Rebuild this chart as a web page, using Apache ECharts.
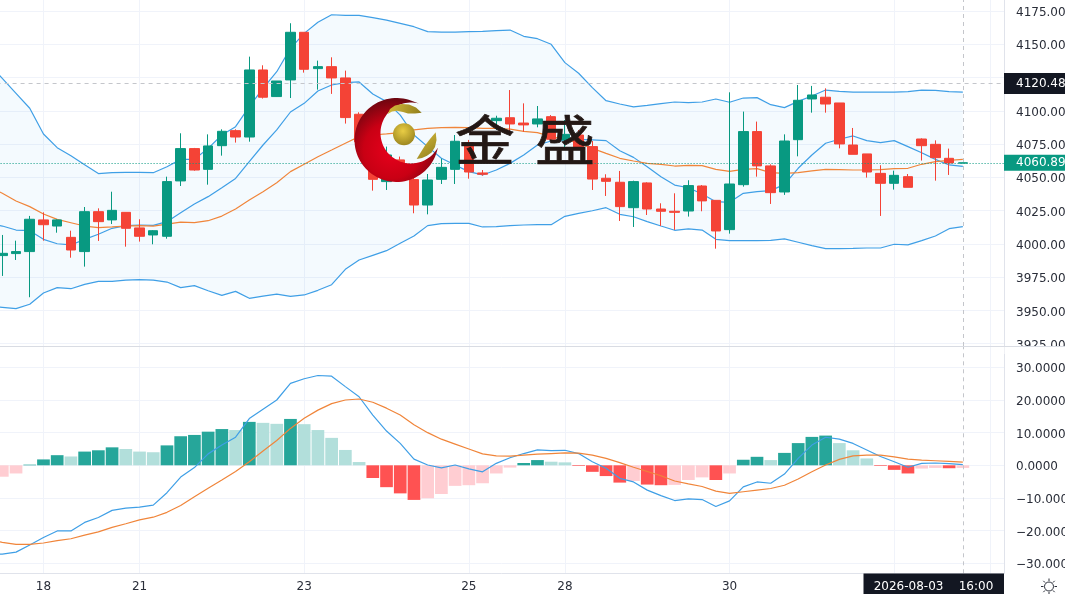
<!DOCTYPE html>
<html><head><meta charset="utf-8">
<style>html,body{margin:0;padding:0;background:#fff}#c{width:1065px;height:594px}</style>
<script src="https://cdn.jsdelivr.net/npm/echarts@6/dist/echarts.min.js"></script>
</head><body><div id="c"></div>
<script>
const barCount = 75;
const dayLabels = {4:'18',11:'21',23:'23',35:'25',42:'28',54:'30',66:'',73:''};
const opens = [3991,3991.2,3992.7,3994.2,4018.0,4013.4,4004.9,3994.2,4024.2,4018.0,4023.7,4012.0,4006.7,4005.7,4047.3,4071.6,4056.0,4073.8,4085.1,4080.3,4130.7,4110.7,4123.2,4159.0,4131.7,4133.2,4124.7,4097.4,4076.8,4046.8,4063.1,4048.3,4029.2,4048.5,4056.0,4076.1,4053.3,4092.6,4094.8,4090.8,4090.1,4095.6,4078.1,4081.8,4073.1,4049.3,4046.3,4027.2,4045.8,4026.2,4024.5,4024.7,4043.5,4032.7,4010.7,4044.5,4084.4,4058.6,4039.0,4078.3,4108.9,4110.2,4105.9,4074.3,4067.6,4053.0,4045.5,4050.5,4078.8,4074.8,4064.3,4060.7];
const closes = [3992,3992.9,3994.2,4018.5,4014.4,4018.0,3995.4,4024.2,4016.7,4025.2,4011.7,4005.7,4009.9,4046.8,4071.6,4055.5,4073.6,4084.6,4080.3,4130.7,4110.2,4122.4,4159.0,4131.2,4133.2,4124.7,4094.9,4076.8,4048.5,4066.8,4048.0,4029.2,4048.0,4057.5,4077.1,4054.0,4052.3,4094.4,4090.1,4089.4,4093.9,4078.6,4082.3,4072.3,4048.7,4047.0,4028.0,4046.8,4026.2,4024.5,4023.7,4043.8,4032.3,4009.7,4045.0,4084.4,4058.6,4038.5,4077.3,4107.9,4111.9,4105.1,4075.1,4067.3,4054.0,4045.5,4051.5,4042.5,4073.8,4064.8,4060.8,4060.89];
const lows = [3985,3975.9,3987.9,3959.9,4002.4,4008.4,3989.6,3982.9,4002.2,4014.9,3997.9,4001.7,3999.7,4003.9,4043.5,4055.0,4044.5,4066.3,4076.1,4076.8,4109.2,4110.4,4109.6,4128.7,4115.9,4112.7,4090.4,4075.6,4040.0,4040.5,4047.5,4023.0,4022.2,4045.0,4045.0,4049.0,4051.2,4085.6,4084.3,4084.3,4087.6,4078.0,4070.5,4071.8,4040.5,4036.0,4017.2,4012.7,4021.7,4013.5,4010.5,4020.5,4024.5,3996.4,4007.7,4043.0,4050.5,4030.0,4036.8,4065.8,4098.6,4098.6,4071.8,4067.3,4049.8,4021.0,4040.8,4042.5,4062.6,4047.5,4051.8,4060.6];
const highs = [4000,4006.7,4002.4,4021.0,4023.7,4018.5,4009.9,4027.7,4026.7,4039.2,4023.7,4018.5,4010.4,4050.5,4083.1,4072.1,4082.3,4086.1,4086.1,4140.7,4134.2,4122.4,4165.8,4159.0,4137.7,4140.2,4130.2,4098.9,4080.6,4073.1,4065.6,4050.5,4052.5,4064.1,4081.8,4078.1,4055.5,4096.3,4115.6,4105.6,4103.6,4096.8,4093.1,4085.6,4077.3,4052.3,4054.8,4047.5,4046.3,4030.5,4038.0,4047.8,4044.2,4032.7,4113.9,4099.4,4091.9,4059.8,4082.3,4119.4,4118.7,4116.9,4105.9,4087.1,4067.6,4059.1,4055.0,4052.5,4079.3,4077.8,4071.6,4061.0];
const bbUpper = [4135.7,4124.4,4113.1,4101.9,4082.6,4072.3,4066.3,4059.5,4052.8,4053.5,4053.8,4053.8,4053.5,4058.0,4063.5,4063.5,4071.8,4081.8,4088.1,4103.1,4116.9,4129.4,4146.9,4158.2,4166.5,4172.2,4171.7,4171.7,4170.0,4168.2,4165.7,4163.2,4159.5,4159.2,4159.2,4159.5,4159.7,4160.2,4160.7,4156.0,4154.2,4150.0,4136.2,4128.2,4117.4,4107.6,4105.1,4102.9,4104.1,4105.4,4106.6,4106.1,4106.6,4108.9,4106.4,4109.6,4109.9,4104.6,4102.4,4107.1,4111.1,4115.6,4114.6,4114.1,4114.1,4114.1,4114.1,4114.4,4115.6,4115.4,4114.4,4114.1];
const bbMiddle = [4015.4,4013.4,4010.4,4009.9,4003.4,4000.1,3999.2,4003.4,4007.2,4011.7,4013.7,4014.2,4013.9,4016.7,4023.4,4029.9,4035.5,4042.2,4049.2,4061.8,4074.3,4085.6,4099.1,4105.6,4114.9,4119.4,4121.2,4121.7,4112.6,4106.9,4096.8,4081.8,4073.1,4064.3,4059.3,4054.3,4051.8,4055.5,4060.5,4066.8,4074.3,4077.3,4077.6,4078.6,4078.1,4077.6,4070.0,4065.0,4058.0,4050.5,4044.2,4042.2,4037.5,4031.7,4031.2,4038.0,4039.2,4040.0,4044.7,4056.8,4066.8,4075.6,4078.6,4081.1,4077.6,4076.1,4077.6,4073.1,4068.5,4063.5,4059.3,4058.3];
const bbLower = [3953.3,3952.3,3951.3,3954.6,3963.1,3967.1,3966.3,3969.6,3971.8,3971.8,3972.8,3973.1,3972.8,3971.3,3967.1,3968.6,3964.8,3961.3,3964.3,3959.1,3960.8,3962.3,3960.6,3961.6,3965.1,3969.3,3980.9,3987.9,3991.4,3994.9,4000.4,4005.9,4013.7,4015.2,4015.4,4015.4,4012.7,4012.9,4013.7,4014.2,4014.4,4014.4,4020.7,4022.9,4024.9,4027.2,4022.2,4020.4,4016.7,4013.4,4010.2,4011.2,4010.4,4003.4,4002.4,4002.4,4002.4,4002.7,4003.7,4001.2,3998.7,3996.4,3996.4,3996.6,3996.9,3996.9,3999.7,3999.2,4002.4,4005.9,4011.4,4012.9];
const maLine = [4043.0,4038.0,4032.2,4028.0,4022.4,4018.4,4015.9,4013.4,4012.2,4012.7,4013.4,4013.7,4013.4,4014.9,4016.4,4015.9,4017.4,4020.9,4026.2,4032.9,4039.2,4046.0,4054.3,4059.8,4065.5,4070.5,4075.6,4080.6,4081.8,4082.6,4083.6,4085.6,4086.8,4087.3,4087.6,4087.3,4086.8,4086.8,4086.3,4084.6,4083.6,4080.6,4078.6,4075.6,4071.8,4068.0,4064.3,4062.3,4060.5,4059.8,4058.5,4059.0,4058.8,4056.0,4054.5,4056.0,4056.5,4053.5,4053.0,4053.5,4054.8,4056.0,4055.8,4055.5,4055.5,4055.8,4056.5,4056.8,4059.8,4061.8,4062.8,4063.5];
const macdDif = [-27.3,-27.2,-26.6,-24.4,-22.1,-20.1,-20.1,-17.5,-16.0,-13.8,-13.1,-12.8,-12.2,-8.4,-3.6,-0.7,3.5,6.2,8.6,14.3,17.2,20.0,25.1,26.5,27.5,27.3,24.1,21.0,15.4,10.5,6.7,1.9,0.1,-0.8,0.1,-1.1,-2.0,0.6,2.3,3.6,4.7,4.5,4.6,3.6,1.1,-0.9,-4.0,-5.1,-7.6,-9.3,-10.8,-10.3,-10.5,-12.6,-10.9,-6.6,-5.1,-5.5,-2.7,2.1,6.2,8.6,8.0,6.7,4.7,2.7,1.1,-0.6,0.6,0.7,0.5,0.2];
const macdDea = [-22.8,-23.6,-24.2,-24.2,-23.8,-23.1,-22.5,-21.4,-20.4,-19.0,-17.9,-16.7,-15.9,-14.4,-12.3,-9.6,-7.0,-4.5,-1.9,1.1,4.4,7.6,11.3,14.4,16.9,18.9,20.0,20.3,19.3,17.5,15.4,12.4,10.0,8.0,6.5,5.0,3.5,2.9,2.8,3.1,3.4,3.6,3.8,3.7,3.1,2.1,0.8,-0.6,-1.9,-3.2,-4.8,-5.7,-6.5,-7.9,-8.6,-8.1,-7.6,-7.1,-6.1,-4.2,-2.0,0.1,1.8,2.9,3.1,3.1,2.6,1.9,1.6,1.4,1.2,1.0];
const macdHist = [-4.0,-3.5,-2.5,0.2,1.8,3.1,2.7,4.2,4.6,5.5,5.0,4.2,4.0,6.1,8.9,9.3,10.3,11.1,10.8,13.3,13.0,12.7,14.2,12.6,10.8,8.4,4.7,1.0,-3.9,-6.7,-8.6,-10.6,-10.1,-8.8,-6.3,-6.1,-5.5,-2.5,-0.7,0.7,1.6,1.1,0.9,-0.2,-2.0,-3.3,-5.3,-4.8,-5.9,-6.1,-6.0,-4.5,-3.7,-4.5,-2.5,1.7,2.6,1.6,3.8,6.8,8.7,9.1,6.8,4.6,2.1,-0.2,-1.4,-2.5,-1.0,-0.8,-0.9,-0.8];
const priceTicks = [3925,3950,3975,4000,4025,4050,4075,4100,4125,4150,4175];
const priceLabels = [3925,3950,3975,4000,4025,4050,4075,4100,4150,4175];
const macdTicks = [-30,-20,-10,0,10,20,30];
const lastPrice = 4060.89, markedPrice = 4120.48, crossIndex = 71;
const dateText = '2026-08-03    16:00';

const UP='#089981', DOWN='#f44336', GRID='#f0f3fa', BORDER='#e0e3eb', TXT='#2a2e39', BLUE='#3f9fe6', ORANGE='#f0853a';
const categories = Array.from({length:barCount},(_,i)=>String(i));
const tickSet = (i)=> dayLabels[i]!==undefined;
const histColor=(v,i)=>{const p=i?macdHist[i-1]:v; return v>=0?(v>=p?'#26a69a':'#b2dfdb'):(v<=p?'#ff5252':'#ffcdd2');};
const line=(name,data,color,x)=>({name,type:'line',data,xAxisIndex:x,yAxisIndex:x,showSymbol:false,symbol:'none',lineStyle:{color,width:1.2},z:3,silent:true,animation:false});
const chart=echarts.init(document.getElementById('c'),null,{renderer:'canvas'});
const L=-11.42, R=61;
const xCommon=(showLabel)=>({type:'category',data:categories,boundaryGap:false,
  axisLine:{show:true,onZero:false,lineStyle:{color:BORDER,width:1}},axisTick:{show:false},
  axisLabel:{show:showLabel,interval:(i)=>tickSet(i),formatter:(v)=>dayLabels[+v]||'',color:TXT,fontSize:12,fontFamily:'DejaVu Sans',margin:8,hideOverlap:false},
  splitLine:{show:true,interval:(i)=>tickSet(i),lineStyle:{color:GRID,width:1}}});
const goldG={type:'linear',x:0,y:0,x2:1,y2:1,colorStops:[{offset:0,color:'#d8bd3c'},{offset:1,color:'#8f7d1c'}]};
const arcPts=(cx,cy,r,a0,a1,n)=>Array.from({length:n+1},(_,k)=>{const a=(a0+(a1-a0)*k/n)*Math.PI/180;return [cx+r*Math.cos(a),cy+r*Math.sin(a)];});
const crescent=arcPts(396.5,140,42,-73,-348,70).concat(arcPts(411,133,30.5,29,285,60));
const rays=[0,45,90,135,180,225,270,315].map(d=>{const a=d*Math.PI/180;return {type:'line',z:100,silent:true,shape:{x1:1049+5.5*Math.cos(a),y1:586.5+5.5*Math.sin(a),x2:1049+8*Math.cos(a),y2:586.5+8*Math.sin(a)},style:{stroke:'#2a2e39',lineWidth:1}};});
const tickRich={t:{padding:[4,0,0,0],color:TXT,fontSize:12,fontFamily:'DejaVu Sans'}};
const option={
  animation:false,backgroundColor:'#fff',
  grid:[{left:L,right:R,top:0,height:346,outerBoundsMode:'none',containLabel:false},{left:L,right:R,top:346,height:227.3,outerBoundsMode:'none',containLabel:false}],
  xAxis:[Object.assign(xCommon(false),{gridIndex:0}),Object.assign(xCommon(true),{gridIndex:1})],
  yAxis:[
   {type:'value',gridIndex:0,position:'right',min:3923.25,max:4183.27,
    axisLine:{show:true,lineStyle:{color:BORDER}},axisTick:{show:false,customValues:priceTicks},
    axisLabel:{customValues:priceLabels,margin:12,color:TXT,fontSize:12,fontFamily:'DejaVu Sans',rich:tickRich,formatter:(v)=>'{t|'+v.toFixed(2)+'}'},
    splitLine:{show:true,lineStyle:{color:GRID,width:1}}},
   {type:'value',gridIndex:1,position:'right',min:-33.08,max:36.54,
    axisLine:{show:true,lineStyle:{color:BORDER}},axisTick:{show:false,customValues:macdTicks},
    axisLabel:{customValues:macdTicks,margin:12,color:TXT,fontSize:12,fontFamily:'DejaVu Sans',rich:tickRich,formatter:(v)=>'{t|'+v.toFixed(4).replace('-','\u2212')+'}'},
    splitLine:{show:true,lineStyle:{color:GRID,width:1}}}
  ],
  series:[
   {name:'bbBase',type:'line',stack:'bb',data:bbLower,xAxisIndex:0,yAxisIndex:0,symbol:'none',lineStyle:{width:0,opacity:0},silent:true,z:1},
   {name:'bbBand',type:'line',stack:'bb',data:bbUpper.map((u,i)=>+(u-bbLower[i]).toFixed(2)),xAxisIndex:0,yAxisIndex:0,symbol:'none',lineStyle:{width:0,opacity:0},areaStyle:{color:'rgba(33,150,243,0.05)',opacity:1},silent:true,z:1},
   line('bbUpper',bbUpper,BLUE,0),
   line('bbLower',bbLower,BLUE,0),
   line('bbMiddle',bbMiddle,BLUE,0),
   line('ma',maLine,ORANGE,0),
   {name:'price',type:'candlestick',xAxisIndex:0,yAxisIndex:0,barWidth:10,z:4,silent:true,
    data:opens.map((o,i)=>[o,closes[i],lows[i],highs[i]]),
    itemStyle:{color:UP,color0:DOWN,borderColor:UP,borderColor0:DOWN,borderWidth:1},
    markLine:{silent:true,symbol:'none',animation:false,data:[
      {yAxis:lastPrice,lineStyle:{color:UP,type:[1,2],width:1},
       label:{show:true,position:'end',distance:0,formatter:lastPrice.toFixed(2),backgroundColor:UP,color:'#fff',fontSize:12,fontFamily:'DejaVu Sans',padding:[3,12,1,12]}},
      {yAxis:markedPrice,lineStyle:{color:'#c4c6cb',type:[4,4],width:1},
       label:{show:true,position:'end',distance:0,formatter:markedPrice.toFixed(2),backgroundColor:'#131722',color:'#fff',fontSize:12,fontFamily:'DejaVu Sans',padding:[6,12,3,12]}},
      {xAxis:crossIndex,lineStyle:{color:'#c4c6cb',type:[4,4],width:1},label:{show:false}}
    ]}},
   {name:'hist',type:'bar',xAxisIndex:1,yAxisIndex:1,barWidth:12.7,z:2,silent:true,
    data:macdHist.map((v,i)=>({value:v,itemStyle:{color:histColor(v,i)}})),
    markLine:{silent:true,symbol:'none',animation:false,data:[{xAxis:crossIndex,lineStyle:{color:'#c4c6cb',type:[4,4],width:1},label:{show:false}}]}},
   line('dif',macdDif,BLUE,1),
   line('dea',macdDea,ORANGE,1)
  ],
  graphic:[
   {type:'rect',z:100,silent:true,shape:{x:1004.5,y:346,width:61,height:8},style:{fill:'#fff'}},
   {type:'line',z:101,silent:true,shape:{x1:0,y1:346.5,x2:1065,y2:346.5},style:{stroke:'#d9dce3',lineWidth:1}},
   {type:'rect',z:100,silent:true,shape:{x:863.5,y:573.5,width:140.5,height:21},style:{fill:'#131722'}},
   {type:'text',z:101,silent:true,x:933.5,y:587,style:{text:dateText,fill:'#fff',font:'12px "DejaVu Sans"',textAlign:'center',textVerticalAlign:'middle'}},
   {type:'circle',z:100,silent:true,shape:{cx:1049,cy:586.5,r:4.5},style:{fill:'#fff',stroke:'#2a2e39',lineWidth:1}}
  ].concat(rays,[
   {type:'polygon',z:50,silent:true,shape:{points:crescent},
     style:{fill:{type:'radial',x:0.45,y:0.62,r:0.62,colorStops:[{offset:0,color:'#e8001c'},{offset:0.55,color:'#c90014'},{offset:1,color:'#6d0610'}]}}},
   {type:'circle',z:50,silent:true,shape:{cx:404,cy:134.3,r:11},style:{fill:{type:'radial',x:0.45,y:0.35,r:0.7,colorStops:[{offset:0,color:'#e9cd45'},{offset:1,color:'#97821d'}]}}},
   {type:'polygon',z:50,silent:true,shape:{points:[[387.7,114],[390,109],[395,105.5],[402,104],[409,104.5],[416,107.5],[421.7,112.7],[415,113.6],[408,113.6],[403,112],[397,110.8],[392,111.5]]},style:{fill:goldG}},
   {type:'polygon',z:50,silent:true,shape:{points:[[416.7,159],[420,153.5],[425,145.5],[430,139],[435.7,132.3],[436.5,140],[435,147],[431.5,152.5],[427,155.8],[422,158]]},style:{fill:goldG}},
   {type:'text',z:51,silent:true,x:485,y:140.5,scaleY:0.9,style:{text:'金',fill:'#231815',stroke:'#231815',lineWidth:0.8,font:'400 60px "Noto Sans CJK SC"',textAlign:'center',textVerticalAlign:'middle'}},
   {type:'text',z:51,silent:true,x:565,y:140.5,scaleY:0.9,style:{text:'盛',fill:'#231815',stroke:'#231815',lineWidth:0.8,font:'400 60px "Noto Sans CJK SC"',textAlign:'center',textVerticalAlign:'middle'}}
  ])
};
chart.setOption(option);
</script></body></html>
